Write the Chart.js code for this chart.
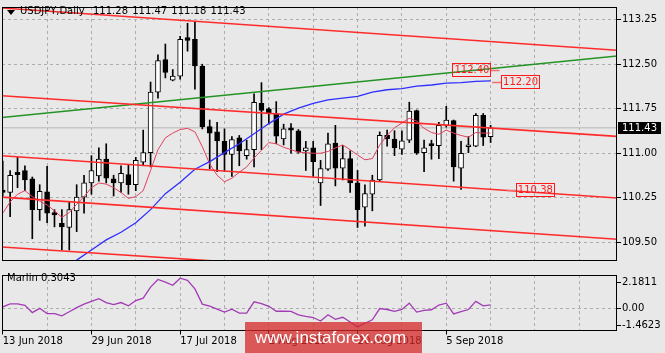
<!DOCTYPE html>
<html>
<head>
<meta charset="utf-8">
<script src="https://cdn.jsdelivr.net/npm/chart.js@4.4.0/dist/chart.umd.min.js"></script>
<style>
  html, body { margin: 0; padding: 0; background: #e8e8e8; }
  #wrap { position: relative; width: 665px; height: 353px; overflow: hidden; font-family: "DejaVu Sans", sans-serif; }
  canvas { position: absolute; left: 0; }
  #priceCanvas { top: 0; }
  #marlinCanvas { top: 268px; }
  .txt { position: absolute; font-size: 10px; line-height: 12px; color: #000; white-space: pre; }
  #tri { position: absolute; left: 7px; top: 10px; width: 0; height: 0;
         border-left: 4px solid transparent; border-right: 4px solid transparent; border-top: 5px solid #000; }
  #mark { position: absolute; left: 245px; top: 322px; width: 177px; height: 31px;
          background: rgba(214, 40, 40, 0.75); color: #fff; font-family: "Liberation Sans", Arial, sans-serif;
          font-size: 17px; line-height: 31px; padding-left: 10px; box-sizing: border-box; }
</style>
</head>
<body>
<div id="wrap">
  <canvas id="priceCanvas" width="665" height="268"></canvas>
  <canvas id="marlinCanvas" width="665" height="85"></canvas>
  <div id="tri"></div>
  <div class="txt" id="title" style="left:20px; top:5px;"></div>
  <div class="txt" id="ohlc" style="left:93px; top:5px; word-spacing:1px;"></div>
  <div class="txt" id="marlinTitle" style="left:7px; top:272px;"></div>
  <div id="mark">www.instaforex.com</div>
</div>
<script>
// Daily bars, 13 Jun 2018 .. 13 Sep 2018
var dates = ['13 Jun 2018','14 Jun 2018','15 Jun 2018','18 Jun 2018','19 Jun 2018','20 Jun 2018','21 Jun 2018','22 Jun 2018','25 Jun 2018','26 Jun 2018',
  '27 Jun 2018','28 Jun 2018','29 Jun 2018','2 Jul 2018','3 Jul 2018','4 Jul 2018','5 Jul 2018','6 Jul 2018','9 Jul 2018','10 Jul 2018',
  '11 Jul 2018','12 Jul 2018','13 Jul 2018','16 Jul 2018','17 Jul 2018','18 Jul 2018','19 Jul 2018','20 Jul 2018','23 Jul 2018','24 Jul 2018',
  '25 Jul 2018','26 Jul 2018','27 Jul 2018','30 Jul 2018','31 Jul 2018','1 Aug 2018','2 Aug 2018','3 Aug 2018','6 Aug 2018','7 Aug 2018',
  '8 Aug 2018','9 Aug 2018','10 Aug 2018','13 Aug 2018','14 Aug 2018','15 Aug 2018','16 Aug 2018','17 Aug 2018','20 Aug 2018','21 Aug 2018',
  '22 Aug 2018','23 Aug 2018','24 Aug 2018','27 Aug 2018','28 Aug 2018','29 Aug 2018','30 Aug 2018','31 Aug 2018','3 Sep 2018','4 Sep 2018',
  '5 Sep 2018','6 Sep 2018','7 Sep 2018','10 Sep 2018','11 Sep 2018','12 Sep 2018','13 Sep 2018'];

var opens = [110.38,110.34,110.68,110.71,110.57,110.05,110.35,110.00,109.82,109.75,
  110.03,110.26,110.50,110.62,110.90,110.57,110.50,110.64,110.47,110.85,
  111.01,112.03,112.58,112.23,112.30,112.95,112.92,112.47,111.45,111.36,
  111.20,110.98,111.26,110.96,111.06,111.84,111.75,111.67,111.24,111.43,
  111.38,111.04,111.09,110.50,110.73,111.17,110.75,110.91,110.50,110.09,
  110.31,110.55,111.30,111.24,111.07,111.22,111.72,111.01,111.14,111.13,
  111.47,111.55,110.75,111.11,111.12,111.64,111.28];
var highs = [110.87,110.71,110.93,110.79,110.60,110.47,110.78,110.05,110.05,110.18,
  110.47,110.63,110.96,111.09,111.16,110.63,110.79,110.81,110.93,111.39,
  112.20,112.66,112.84,112.41,112.97,113.19,113.21,112.50,111.56,111.52,
  111.41,111.28,111.30,111.22,112.00,112.19,111.77,111.87,111.49,111.50,
  111.40,111.20,111.20,110.88,111.34,111.47,111.13,111.04,110.71,110.47,
  110.63,111.36,111.39,111.38,111.38,111.86,111.73,111.22,111.22,111.52,
  111.79,111.56,111.20,111.28,111.67,111.67,111.47];
var lows = [110.28,109.93,110.42,110.37,109.56,109.87,109.83,109.76,109.37,109.37,
  109.68,109.99,110.31,110.53,110.50,110.28,110.34,110.31,110.37,110.79,
  110.77,111.93,112.27,112.22,112.25,112.72,112.08,111.41,110.74,110.69,
  110.69,110.61,110.79,110.90,110.77,111.06,111.49,111.16,111.14,111.00,
  111.00,110.71,110.61,110.12,110.71,110.45,110.55,110.34,109.75,109.77,
  110.03,110.53,111.12,110.96,110.98,111.18,110.98,110.69,110.90,110.91,
  111.44,110.53,110.39,111.01,111.11,111.13,111.18];
var closes = [110.34,110.63,110.64,110.55,110.05,110.36,109.99,109.96,109.76,110.05,
  110.26,110.50,110.71,110.90,110.58,110.50,110.66,110.47,110.88,111.01,
  112.03,112.56,112.36,112.30,112.92,112.90,112.47,111.45,111.34,111.21,
  110.98,111.23,111.04,111.06,111.86,111.72,111.67,111.29,111.41,111.39,
  111.02,111.09,110.86,110.74,111.16,110.75,110.91,110.50,110.05,110.32,
  110.55,111.30,111.24,111.09,111.21,111.71,111.00,111.09,111.13,111.47,
  111.56,110.77,111.00,111.14,111.64,111.27,111.43];

// fast moving average (thin crimson line)
var fastMa = [109.99,110.18,110.31,110.37,110.27,110.19,110.13,110.03,109.92,110.00,
  110.14,110.27,110.42,110.50,110.48,110.42,110.34,110.24,110.27,110.37,
  110.71,111.06,111.26,111.34,111.40,111.42,111.36,111.11,110.82,110.63,
  110.52,110.58,110.68,110.77,110.92,111.05,111.18,111.16,111.10,111.06,
  111.02,111.01,111.00,111.00,111.03,111.09,111.14,111.06,110.97,110.89,
  110.91,111.14,111.30,111.43,111.51,111.59,111.54,111.42,111.35,111.32,
  111.39,111.34,111.30,111.27,111.35,111.34,111.34];

// slow moving average (blue), read every second bar
var slowMaBars = [8,10,12,14,16,18,20,22,24,26,28,30,32,34,36,38,40,42,44,46,48,50,52,54,56,58,60,62,64,66];
var slowMa = [109.05,109.20,109.37,109.54,109.67,109.83,110.05,110.32,110.51,110.73,
  110.86,111.01,111.16,111.33,111.50,111.66,111.76,111.84,111.90,111.93,
  111.96,112.03,112.07,112.09,112.13,112.15,112.18,112.19,112.21,112.22];

// Marlin oscillator
var marlin = [0.15,0.40,0.40,0.28,-0.34,0.02,-0.42,-0.43,-0.61,-0.27,
  0.08,0.38,0.61,0.84,0.51,0.33,0.51,0.23,0.68,0.89,
  1.82,2.47,2.24,1.98,2.58,2.39,1.67,0.38,0.21,-0.04,
  -0.30,-0.05,-0.38,-0.38,0.57,0.42,0.19,-0.23,-0.23,-0.24,
  -0.53,-0.66,-0.76,-1.06,-0.53,-0.91,-0.74,-1.14,-1.56,-1.25,
  -0.95,0.00,-0.08,-0.23,-0.08,0.46,-0.30,-0.15,-0.10,0.30,
  0.46,-0.46,-0.27,-0.08,0.61,0.23,0.3043];

// trend lines: price at bar -1 and at bar 84
var lineBars = [-1, 84];
var channelLines = [[113.455, 112.727], [111.976, 111.277], [110.967, 110.238], [110.268, 109.544], [109.429, 108.731]];
var greenLine = [111.593, 112.651];

// price tags on the chart
var levelTags = [112.40, 112.20, 110.38];

// axes
var priceTicks = [113.25, 112.50, 111.75, 111.00, 110.25, 109.50];
var marlinTicks = [2.1811, 0, -1.4623];
var marlinTickText = ['2.1811', '0.00', '-1.4623'];
var gridBars = [0, 6, 12, 18, 24, 30, 36, 42, 48, 54, 60, 66, 72, 78];
var labelBars = [0, 12, 24, 36, 48, 60];

var last = closes.length - 1;
document.getElementById('title').textContent = 'USDJPY,Daily';
document.getElementById('ohlc').textContent = [opens[last], highs[last], lows[last], closes[last]].map(function (v) { return v.toFixed(2); }).join(' ');
document.getElementById('marlinTitle').textContent = 'Marlin ' + marlin[last].toFixed(4);

Chart.defaults.font.family = 'DejaVu Sans';
Chart.defaults.font.size = 10;
Chart.defaults.color = '#000';

var gridColor = '#adadad';
var xMin = -0.1, xMax = 83.1;

// black frame around each panel
var framePlugin = {
    id: 'frame',
    afterDraw: function (chart) {
        var ctx = chart.ctx, a = chart.chartArea;
        ctx.save();
        ctx.strokeStyle = '#000';
        ctx.lineWidth = 1;
        ctx.strokeRect(Math.round(a.left) + 0.5, Math.round(a.top) + 0.5,
            Math.round(a.right) - Math.round(a.left) - 1, Math.round(a.bottom) - Math.round(a.top) - 1);
        ctx.restore();
    }
};

// price tags and current price box
var tagPlugin = {
    id: 'tags',
    afterDraw: function (chart) {
        var ctx = chart.ctx, xs = chart.scales.x, ys = chart.scales.y;
        var spots = [{ bar: 67.2, side: -1 }, { bar: 66.2, side: 1 }, { bar: 68.2, side: 1 }];
        ctx.save();
        ctx.font = '10px "DejaVu Sans"';
        ctx.textAlign = 'center';
        ctx.textBaseline = 'middle';
        levelTags.forEach(function (v, i) {
            var px = xs.getPixelForValue(spots[i].bar);
            var py = Math.round(ys.getPixelForValue(v)) + 0.5;
            var edge = px + spots[i].side * 9;
            var bx = spots[i].side > 0 ? edge : edge - 38;
            ctx.strokeStyle = '#f07070';
            ctx.lineWidth = 1.5;
            ctx.beginPath(); ctx.moveTo(px, py); ctx.lineTo(edge, py); ctx.stroke();
            ctx.strokeStyle = '#ff1a1a';
            ctx.lineWidth = 1;
            ctx.strokeRect(Math.round(bx) + 0.5, py - 7, 38, 13);
            ctx.fillStyle = '#ff1a1a';
            ctx.fillText(v.toFixed(2), bx + 19.5, py);
        });
        // current price on the axis
        var cy = ys.getPixelForValue(closes[last]);
        ctx.fillStyle = '#000';
        ctx.fillRect(618, Math.round(cy) - 6, 43, 12);
        ctx.fillStyle = '#fff';
        ctx.textAlign = 'left';
        ctx.fillText(closes[last].toFixed(2), 622, Math.round(cy));
        ctx.restore();
    }
};

function linePoints(vals) {
    return lineBars.map(function (b, i) { return { x: b, y: vals[i] }; });
}

var priceSets = [];
channelLines.forEach(function (vals) {
    priceSets.push({ type: 'line', data: linePoints(vals), borderColor: '#ff2b2b', borderWidth: 1.6, pointRadius: 0, order: 0 });
});
priceSets.push({ type: 'line', data: linePoints(greenLine), borderColor: '#239323', borderWidth: 1.5, pointRadius: 0, order: 0 });
priceSets.push({ type: 'line', data: slowMaBars.map(function (b, i) { return { x: b, y: slowMa[i] }; }), borderColor: '#2e2eff', borderWidth: 1.3, pointRadius: 0, order: 0 });
priceSets.push({ type: 'line', data: fastMa.map(function (v, i) { return { x: i, y: v }; }), borderColor: '#e2405e', borderWidth: 1, pointRadius: 0, order: 0 });
priceSets.push({ type: 'line', data: linePoints([closes[last], closes[last]]), borderColor: '#c6c6c6', borderWidth: 1.5, pointRadius: 0, order: 9 });
priceSets.push({
    label: 'bodies',
    data: opens.map(function (o, i) { return { x: i, y: [o, closes[i]] }; }),
    backgroundColor: opens.map(function (o, i) { return closes[i] >= o ? '#ffffff' : '#000000'; }),
    borderColor: '#000', borderWidth: 1, borderSkipped: false, barThickness: 5, minBarLength: 2,
    grouped: false, order: 1
});
priceSets.push({
    label: 'wicks',
    data: lows.map(function (l, i) { return { x: i, y: [l, highs[i]] }; }),
    backgroundColor: '#000', borderWidth: 0, barThickness: 1, grouped: false, order: 2
});

new Chart(document.getElementById('priceCanvas'), {
    type: 'bar',
    data: { datasets: priceSets },
    options: {
        responsive: false,
        animation: false,
        layout: { padding: { left: 2, top: 1, right: 0, bottom: 1.5 } },
        plugins: { legend: { display: false }, tooltip: { enabled: false } },
        scales: {
            x: {
                type: 'linear', min: xMin, max: xMax, offset: false,
                ticks: { display: false },
                grid: { color: gridColor, drawTicks: false, offset: false },
                border: { display: false, dash: [3, 3] },
                afterBuildTicks: function (s) { s.ticks = gridBars.map(function (v) { return { value: v }; }); },
                afterFit: function (s) { s.height = 0; }
            },
            y: {
                position: 'right', min: 109.185, max: 113.464,
                ticks: { padding: 1, callback: function (v) { return v.toFixed(2); } },
                grid: { color: gridColor, tickColor: '#000', tickLength: 4 },
                border: { display: false, dash: [3, 3] },
                afterBuildTicks: function (s) { s.ticks = priceTicks.map(function (v) { return { value: v }; }); },
                afterFit: function (s) { s.width = 48; }
            }
        }
    },
    plugins: [framePlugin, tagPlugin]
});

new Chart(document.getElementById('marlinCanvas'), {
    type: 'line',
    data: { datasets: [{ data: marlin.map(function (v, i) { return { x: i, y: v }; }), borderColor: '#a23cb4', borderWidth: 1.3, pointRadius: 0 }] },
    options: {
        responsive: false,
        animation: false,
        layout: { padding: { left: 2, top: 0.5, right: 0, bottom: 0 } },
        plugins: { legend: { display: false }, tooltip: { enabled: false } },
        scales: {
            x: {
                type: 'linear', min: xMin, max: xMax, offset: false,
                ticks: {
                    align: 'start', padding: 1, maxRotation: 0, autoSkip: false,
                    callback: function (v) { return labelBars.indexOf(v) >= 0 ? dates[v] : ''; }
                },
                grid: {
                    color: gridColor, tickLength: 4,
                    tickColor: function (c) { return c.tick && labelBars.indexOf(c.tick.value) >= 0 ? '#000' : 'rgba(0,0,0,0)'; }
                },
                border: { display: false, dash: [3, 3] },
                afterBuildTicks: function (s) { s.ticks = gridBars.map(function (v) { return { value: v }; }); },
                afterFit: function (s) { s.height = 22.5; }
            },
            y: {
                position: 'right', min: -1.862, max: 2.849,
                ticks: { padding: 1, callback: function (v) { var k = marlinTicks.indexOf(v); return k >= 0 ? marlinTickText[k] : ''; } },
                grid: {
                    tickColor: '#000', tickLength: 4,
                    color: function (c) { return c.tick && c.tick.value === 0 ? gridColor : 'rgba(0,0,0,0)'; }
                },
                border: { display: false, dash: [3, 3] },
                afterBuildTicks: function (s) { s.ticks = marlinTicks.map(function (v) { return { value: v }; }); },
                afterFit: function (s) { s.width = 48; }
            }
        }
    },
    plugins: [framePlugin]
});
</script>
</body>
</html>
